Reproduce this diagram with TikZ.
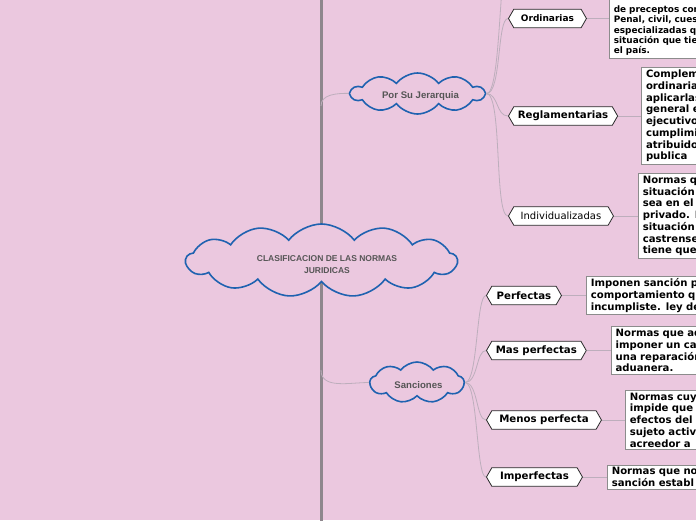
\documentclass[tikz,border=0pt]{standalone}
\usepackage{fontspec}
\setmainfont{DejaVu Sans}
\newfontfamily\cloudfont{Liberation Sans}
\usetikzlibrary{positioning,shapes.symbols}
\definecolor{mapBg}{HTML}{EBC8DF}
\definecolor{mapTrunk}{HTML}{8E878D}
\definecolor{mapLink}{HTML}{BDAEBC}
\definecolor{cloudBlue}{HTML}{1F62B0}
\definecolor{cloudText}{HTML}{555555}
\definecolor{tagRule}{HTML}{2A2A2A}
\definecolor{noteRule}{HTML}{8C8C8C}
\tikzset{
  topic cloud/.style={cloud, cloud puffs=#1, cloud puff arc=105,
    cloud ignores aspect, draw=cloudBlue, line width=1.6pt,
    fill=mapBg, inner sep=0pt},
  cloud label/.style={text=cloudText, align=center,
    font=\cloudfont\bfseries\fontsize{9.6}{12}\selectfont},
  branch tag/.style={signal, signal to=east and west,
    signal pointer angle=120, anchor=west, draw=tagRule,
    line width=0.8pt, fill=white, minimum height=18.5pt,
    inner xsep=4pt, inner ysep=0pt,
    font=\bfseries\fontsize{10.2}{12}\selectfont},
  note box/.style={draw=noteRule, line width=0.8pt, fill=white,
    text width=160pt, align=left, inner xsep=4.5pt, inner ysep=2.5pt,
    font=\bfseries\fontsize{10.1}{11.7}\selectfont},
  link/.style={draw=mapLink, line width=0.8pt},
  trunk/.style={draw=mapTrunk, line width=3pt},
}

\begin{document}
\begin{tikzpicture}[x=1pt,y=-1pt]

\useasboundingbox (0,0) rectangle (696,520);
\fill[mapBg] (0,0) rectangle (696,520);
\clip (0,0) rectangle (696,520);

% Main trunk behind the central topic.
\coordinate (trunkTop) at (321,-5);
\coordinate (trunkBot) at (321,525);
\coordinate (jerFork) at (321,106);
\coordinate (sancFork) at (321,370);
\coordinate (jerUp) at (512,-60);
\draw[trunk] (trunkTop) -- (trunkBot);

\node[topic cloud=13, minimum width=271pt, minimum height=73pt]
  (root) at (321.5,260.5) {};
\node[cloud label, font=\cloudfont\bfseries\fontsize{8.5}{12}\selectfont]
  (rootText) at (327,265) {CLASIFICACION DE LAS NORMAS\\JURIDICAS};

% Subtopic: Por Su Jerarquia.
\node[topic cloud=10, minimum width=133pt, minimum height=41pt]
  (jer) at (417.5,93.5) {};
\node[cloud label] (jerText) at (420.5,96) {Por Su Jerarquia};
\draw[link] (jerFork) to[out=90,in=180] (jer.west);

\node[branch tag, minimum width=78pt,
  font=\bfseries\fontsize{9}{10}\selectfont]
  (ordin) at (508,18.5) {Ordinarias};
\node[branch tag, minimum width=108pt] (reglam) at (508,116) {Reglamentarias};
\node[branch tag, minimum width=105pt, font=\fontsize{10}{12}\selectfont]
  (indiv) at (508,216) {Individualizadas};

\draw[link] (jer.east) .. controls +(16,0) and +(-14,0) .. (jerUp);
\draw[link] (jer.east) .. controls +(15,0) and +(-11,0) .. (ordin.west);
\draw[link] (jer.east) .. controls +(12,0) and +(-12,0) .. (reglam.west);
\draw[link] (jer.east) .. controls +(16,0) and +(-14,0) .. (indiv.west);

\node[note box, font=\bfseries\fontsize{8.9}{10.4}\selectfont,
  right=22pt of ordin] (ordinNote)
  {\mbox{}\\\mbox{}\\\mbox{}\\de preceptos con\\Penal, civil, cues\\especializadas q\\situación que tie\\el país.};
\node[note box, right=23pt of reglam] (reglamNote)
  {Compleme\\ordinarias\\aplicarlas.\\general en\\ejecutivo,\\cumplimie\\atribuidos\\publica};
\node[note box, right=24pt of indiv] (indivNote)
  {Normas qu\\situación j\\sea en el á\\privado. R\\situación p\\castrenses\\tiene que a};

\draw[link] (ordin.east) -- (ordinNote.west |- ordin.east);
\draw[link] (reglam.east) -- (reglamNote.west |- reglam.east);
\draw[link] (indiv.east) -- (indivNote.west |- indiv.east);

% Subtopic: Sanciones.
\node[topic cloud=9, minimum width=94pt, minimum height=41pt]
  (sanc) at (417,382.5) {};
\node[cloud label] (sancText) at (418.5,385) {Sanciones};
\draw[link] (sancFork) to[out=-90,in=180] (sanc.west);

\node[branch tag, minimum width=75pt] (perf) at (486,295.5) {Perfectas};
\node[branch tag, minimum width=97pt] (masperf) at (486,350.5) {Mas perfectas};
\node[branch tag, minimum width=115pt] (menosperf) at (486,420) {Menos perfecta};
\node[branch tag, minimum width=96pt] (imperf) at (486,477) {Imperfectas};

\foreach \tag in {perf,masperf,menosperf,imperf}
  \draw[link] (sanc.east) .. controls +(13,0) and +(-10,0) .. (\tag.west);

\node[note box, right=24pt of perf] (perfNote)
  {Imponen sanción p\\comportamiento qu\\incumpliste. ley de};
\node[note box, right=24pt of masperf] (masperfNote)
  {Normas que ad\\imponer un cas\\una reparación\\aduanera.};
\node[note box, right=23pt of menosperf] (menosperfNote)
  {Normas cuy\\impide que\\efectos del\\sujeto activ\\acreedor a};
\node[note box, right=24pt of imperf] (imperfNote)
  {Normas que no\\sanción establ};

\foreach \tag in {perf,masperf,menosperf,imperf}
  \draw[link] (\tag.east) -- (\tag Note.west |- \tag.east);

\end{tikzpicture}
\end{document}
